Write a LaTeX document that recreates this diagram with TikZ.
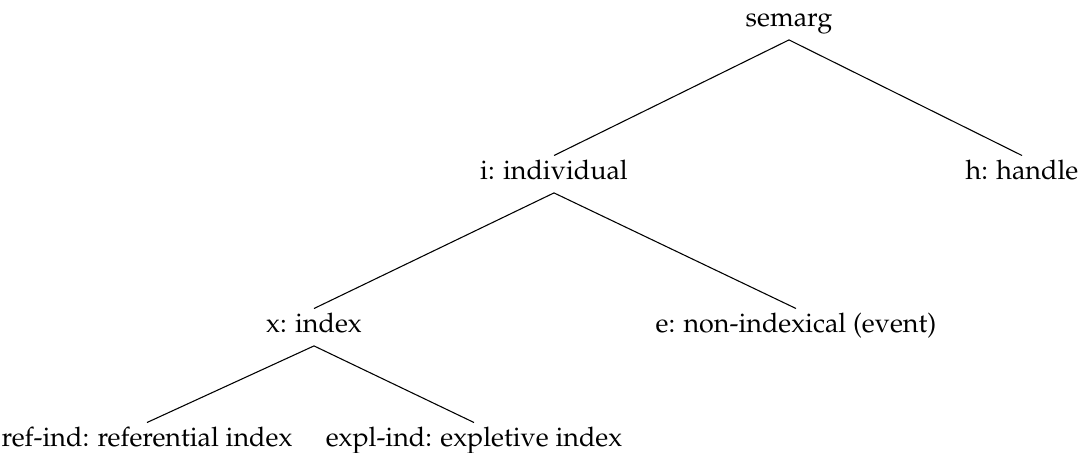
\documentclass[tikz,border=0pt]{standalone}
\usepackage[T1]{fontenc}
\usepackage{mathpazo}
\begin{document}
\begin{tikzpicture}[x=0.3717pt,y=-0.3717pt,
    every node/.style={anchor=base,inner sep=2pt,text height=6.9pt,text depth=2.6pt}]
      \useasboundingbox (0,0) rectangle (1081,453);
      \draw
        (789,27) node (semarg){semarg}
        (554,180) node (i){i: individual}
        (1022,180) node (h){h: handle}
        (314,333) node (x){x: index}
        (796,333) node (e){e: non-indexical (event)}
        (147,447) node (ref){ref-ind: referential index}
        (474,447) node (expl){expl-ind: expletive index};
      \begin{scope}[-]
        \draw (semarg.south) to (i.north);
        \draw (semarg.south) to (h.north);
        \draw (i.south) to (x.north);
        \draw (i.south) to (e.north);
        \draw (x.south) to (ref.north);
        \draw (x.south) to (expl.north);
      \end{scope}
    \end{tikzpicture}
\end{document}
